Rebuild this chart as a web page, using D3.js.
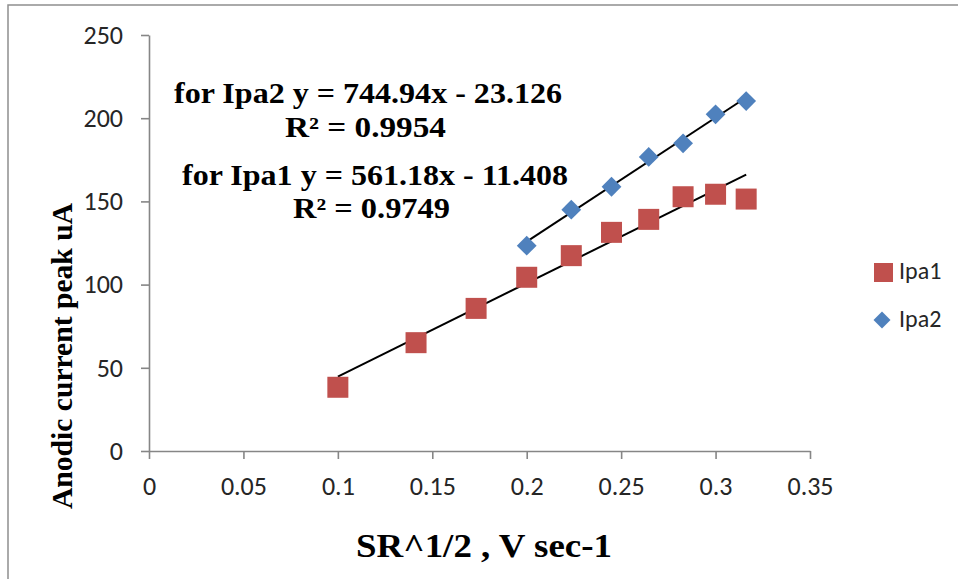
<!DOCTYPE html>
<html>
<head>
<meta charset="utf-8">
<script src="https://cdn.jsdelivr.net/npm/d3@7"></script>
<style>
  html, body { margin: 0; padding: 0; background: #fff; }
  svg { display: block; }
</style>
</head>
<body>
<svg id="chart" width="958" height="579"></svg>
<script>
// ---- Data ----
const xIpa1 = [0.1, 0.1414, 0.1732, 0.2, 0.2236, 0.2449, 0.2646, 0.2828, 0.3, 0.3162];
const yIpa1 = [38.3, 65.1, 85.7, 104.4, 117.4, 131.4, 139.2, 152.8, 154.3, 151.4];
const xIpa2 = [0.2, 0.2236, 0.2449, 0.2646, 0.2828, 0.3, 0.3162];
const yIpa2 = [123.4, 145.0, 158.8, 176.7, 184.9, 202.3, 210.3];
const seriesNames = ["Ipa1", "Ipa2"];
const trendSlopes = [561.18, 744.94];
const trendIntercepts = [-11.408, -23.126];
const trendR2 = ["0.9749", "0.9954"];
const trendIntercText = ["11.408", "23.126"];
const xTicks = [0, 0.05, 0.1, 0.15, 0.2, 0.25, 0.3, 0.35];
const yTicks = [0, 50, 100, 150, 200, 250];
const xTitle = "SR^1/2 , V sec-1";
const yTitle = "Anodic current peak uA";

// ---- Drawing ----
const svg = d3.select("#chart");
const red = "#C0504D", blue = "#4F81BD", axisCol = "#868686";
const sansFont = '"Carlito", "Lato", sans-serif';
const serifFont = '"Liberation Serif", "Times New Roman", serif';

// outer frame
svg.append("rect").attr("x", 8).attr("y", 5).attr("width", 980).attr("height", 600)
  .attr("fill", "none").attr("stroke", "#8f8f8f").attr("stroke-width", 1.5);

const x = d3.scaleLinear().domain([0, 0.35]).range([149, 810]);
const y = d3.scaleLinear().domain([0, 250]).range([451, 35]);

const yAxis = d3.axisLeft(y).tickValues(yTicks).tickSize(8).tickSizeOuter(0).tickPadding(18)
  .tickFormat(d3.format("d"));
const gy = svg.append("g").attr("transform", `translate(${x(0)},0)`).call(yAxis);
const xAxis = d3.axisBottom(x).tickValues(xTicks).tickSize(8).tickSizeOuter(0).tickPadding(18)
  .tickFormat(d => String(d));
const gx = svg.append("g").attr("transform", `translate(0,${y(0)})`).call(xAxis);
[gx, gy].forEach(g => {
  g.select(".domain").attr("stroke", axisCol).attr("stroke-width", 1.6);
  g.selectAll(".tick line").attr("stroke", axisCol).attr("stroke-width", 1.6);
  g.selectAll(".tick text").attr("fill", "#262626").style("font-family", sansFont).style("font-size", "26px");
});

// trendlines
const trendX = [[xIpa1[0], xIpa1[xIpa1.length - 1]], [xIpa2[0], xIpa2[xIpa2.length - 1]]];
trendX.forEach((xs, i) => {
  svg.append("line")
    .attr("x1", x(xs[0])).attr("y1", y(trendSlopes[i] * xs[0] + trendIntercepts[i]))
    .attr("x2", x(xs[1])).attr("y2", y(trendSlopes[i] * xs[1] + trendIntercepts[i]))
    .attr("stroke", "#000").attr("stroke-width", 2);
});

// Ipa1 squares
const sq = 21;
svg.append("g").selectAll("rect").data(xIpa1.map((v, i) => [v, yIpa1[i]])).join("rect")
  .attr("x", d => x(d[0]) - sq / 2).attr("y", d => y(d[1]) - sq / 2)
  .attr("width", sq).attr("height", sq).attr("fill", red);

// Ipa2 diamonds
const diamond = d3.symbol().type(d3.symbolSquare).size(14 * 14);
svg.append("g").selectAll("path").data(xIpa2.map((v, i) => [v, yIpa2[i]])).join("path")
  .attr("d", diamond)
  .attr("transform", d => `translate(${x(d[0])},${y(d[1])}) rotate(45)`)
  .attr("fill", blue);

// equation labels
const eqLines = [
  { t: `for ${seriesNames[1]} y = ${trendSlopes[1]}x - ${trendIntercText[1]}`, x: 174, y: 103, len: 388 },
  { t: `R² = ${trendR2[1]}`, x: 285, y: 137, len: 161 },
  { t: `for ${seriesNames[0]} y = ${trendSlopes[0]}x - ${trendIntercText[0]}`, x: 182, y: 185, len: 386 },
  { t: `R² = ${trendR2[0]}`, x: 293, y: 218, len: 157 }
];
svg.append("g").selectAll("text").data(eqLines).join("text")
  .attr("x", d => d.x).attr("y", d => d.y)
  .attr("textLength", d => d.len).attr("lengthAdjust", "spacingAndGlyphs")
  .style("font-family", serifFont).style("font-weight", "bold").style("font-size", "29px")
  .attr("fill", "#000").text(d => d.t);

// axis titles
svg.append("text").attr("transform", "translate(72,356) rotate(-90)")
  .attr("text-anchor", "middle").attr("textLength", 306).attr("lengthAdjust", "spacingAndGlyphs")
  .style("font-family", serifFont).style("font-weight", "bold").style("font-size", "29px")
  .attr("fill", "#000").text(yTitle);
svg.append("text").attr("x", 356).attr("y", 557)
  .attr("textLength", 256).attr("lengthAdjust", "spacingAndGlyphs")
  .style("font-family", serifFont).style("font-weight", "bold").style("font-size", "33px")
  .attr("fill", "#000").text(xTitle);

// legend
const lg = svg.append("g");
lg.append("rect").attr("x", 874).attr("y", 263).attr("width", 19).attr("height", 19).attr("fill", red);
lg.append("path").attr("d", d3.symbol().type(d3.symbolSquare).size(12 * 12))
  .attr("transform", "translate(882,320) rotate(45)").attr("fill", blue);
lg.selectAll("text").data(seriesNames).join("text")
  .attr("x", 899).attr("y", (d, i) => i === 0 ? 279 : 327)
  .style("font-family", sansFont).style("font-size", "24px").attr("fill", "#262626")
  .text(d => d);
</script>
</body>
</html>
